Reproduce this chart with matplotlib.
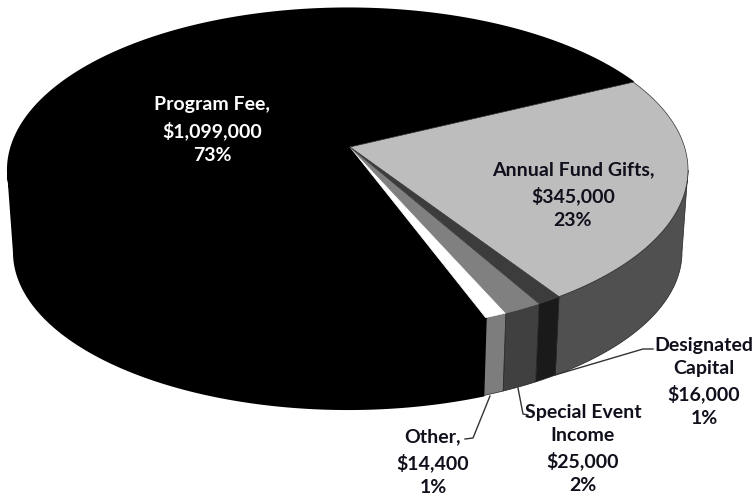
import matplotlib
matplotlib.use("Agg")
import matplotlib.pyplot as plt
import numpy as np

# slices clockwise from the top right boundary
names = ["Annual Fund Gifts", "Designated Capital", "Special Event Income", "Other", "Program Fee"]
amounts = [345000, 16000, 25000, 14400, 1099000]
percents = [23, 1, 2, 1, 73]

labels = [
    "Annual Fund Gifts,\n$345,000\n23%",
    "Designated\nCapital\n$16,000\n1%",
    "Special Event\nIncome\n$25,000\n2%",
    "Other,\n$14,400\n1%",
    "Program Fee,\n$1,099,000\n73%",
]

top_colors = ["#bdbdbd", "#3c3c3c", "#808080", "#ffffff", "#000000"]
side_colors = ["#505050", "#1a1a1a", "#404040", "#7d7d7d", "#000000"]
side_edges = ["#222222", "#222222", "#222222", "#222222", "#000000"]
edge_widths = [0.5, 0.5, 0.5, 0.5, 1.5]
label_colors = ["#10101c", "#10101c", "#10101c", "#10101c", "#ffffff"]
label_pos = [(573, 195), (704, 382), (583, 449), (433, 462), (212, 130)]

START_ANGLE = 27.9
SKEW = 0.1                      # front of the pie looks stretched in perspective
APEX = (350, 147)
TOP = (348, 170, 340, 161.5)    # cx, cy, a, b
BOTTOM = (348, 252, 334, 157)


def warp(angles):
    angles = np.asarray(angles, dtype=float)
    return angles + np.degrees(SKEW) * np.cos(np.radians(angles))


def rim(ellipse, angles):
    cx, cy, a, b = ellipse
    t = np.radians(angles)
    return cx + a * np.cos(t), cy - b * np.sin(t)


def main():
    plt.rcParams["font.family"] = ["Lato", "DejaVu Sans"]
    fig = plt.figure(figsize=(7.55, 4.98), dpi=100)
    ax = fig.add_axes([0, 0, 1, 1])
    ax.set_xlim(0, 755)
    ax.set_ylim(498, 0)
    ax.axis("off")

    fracs = np.array(amounts) / sum(amounts)
    edges = warp(START_ANGLE - np.concatenate([[0], np.cumsum(fracs)]) * 360)

    # side walls, only the front half (below the widest point) shows
    for i in range(len(amounts)):
        hi = min(edges[i], 0)
        lo = max(edges[i + 1], -180)
        if hi <= lo:
            continue
        t = np.linspace(hi, lo, 150)
        x1, y1 = rim(TOP, t)
        x2, y2 = rim(BOTTOM, t[::-1])
        ax.fill(np.r_[x1, x2], np.r_[y1, y2], fc=side_colors[i],
                ec=side_edges[i], lw=edge_widths[i], zorder=2)

    # top faces, the big black one first so its edge stays under the thin slices
    for i in reversed(range(len(amounts))):
        t = np.linspace(edges[i], edges[i + 1], 300)
        x, y = rim(TOP, t)
        ax.fill(np.r_[APEX[0], x], np.r_[APEX[1], y], fc=top_colors[i],
                ec="#333333" if i == 0 else top_colors[i], lw=edge_widths[i], zorder=3)

    # leader lines
    ax.plot([555, 643, 653], [375, 349, 349], color="#333333", lw=1, zorder=4)
    ax.plot([518, 523, 528], [388, 414, 415], color="#333333", lw=1, zorder=4)
    ax.plot([490, 473, 465], [396, 438, 439], color="#333333", lw=1, zorder=4)

    for label, pos, col in zip(labels, label_pos, label_colors):
        ax.text(pos[0], pos[1], label, color=col, fontsize=14, fontweight="bold",
                ha="center", va="center", linespacing=1.48, zorder=5)

    fig.savefig("out.png", dpi=100)
    plt.close(fig)


if __name__ == "__main__":
    main()
